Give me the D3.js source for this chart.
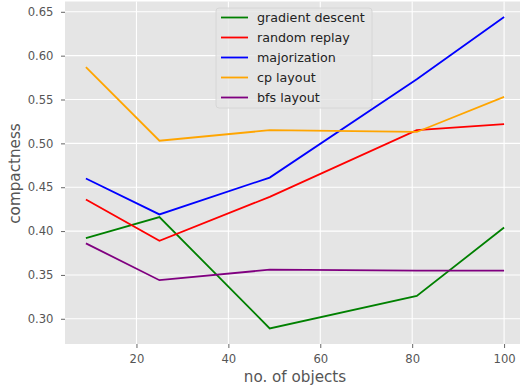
<!DOCTYPE html>
<html>
<head>
<meta charset="utf-8">
<script src="https://cdn.jsdelivr.net/npm/d3@7"></script>
<style>
  body { margin: 0; background: #fff; overflow: hidden; }
  text { font-family: "DejaVu Sans", sans-serif; }
</style>
</head>
<body>
<div id="chart"></div>
<script>
// data
var objects = [9, 25, 49, 81, 100];
var gradientDescent = [0.392, 0.416, 0.289, 0.326, 0.404];
var randomReplay = [0.436, 0.389, 0.439, 0.515, 0.522];
var majorization = [0.460, 0.419, 0.461, 0.573, 0.644];
var cpLayout = [0.587, 0.503, 0.515, 0.513, 0.553];
var bfsLayout = [0.386, 0.344, 0.356, 0.355, 0.355];
var seriesNames = ["gradient descent", "random replay", "majorization", "cp layout", "bfs layout"];
var seriesColors = ["green", "red", "blue", "orange", "purple"];
var xTicks = [20, 40, 60, 80, 100];
var yTicks = [0.30, 0.35, 0.40, 0.45, 0.50, 0.55, 0.60, 0.65];

var series = [gradientDescent, randomReplay, majorization, cpLayout, bfsLayout];

var margin = { top: 1.5, right: -5, bottom: 45, left: 65 },
    width = 520 - margin.left - margin.right,
    height = 389 - margin.top - margin.bottom;

var svg = d3.select("#chart").append("svg")
  .attr("width", 520)
  .attr("height", 389)
  .style("overflow", "hidden");

var g = svg.append("g")
  .attr("transform", "translate(" + margin.left + "," + margin.top + ")");

// matplotlib style 5% margins
var xext = d3.extent(objects), xpad = (xext[1] - xext[0]) * 0.05;
var allY = d3.merge(series);
var yext = d3.extent(allY), ypad = (yext[1] - yext[0]) * 0.05;

var xscale = d3.scaleLinear()
  .domain([xext[0] - xpad, xext[1] + xpad])
  .range([0, width]);
var yscale = d3.scaleLinear()
  .domain([yext[0] - ypad, yext[1] + ypad])
  .range([height, 0]);

g.append("rect")
  .attr("width", width)
  .attr("height", height)
  .attr("fill", "#e5e5e5");

// grid
g.selectAll(".xgrid").data(xTicks).enter().append("line")
  .attr("x1", d => xscale(d)).attr("x2", d => xscale(d))
  .attr("y1", 0).attr("y2", height)
  .attr("stroke", "#fff").attr("stroke-width", 1.1);
g.selectAll(".ygrid").data(yTicks).enter().append("line")
  .attr("y1", d => yscale(d)).attr("y2", d => yscale(d))
  .attr("x1", 0).attr("x2", width)
  .attr("stroke", "#fff").attr("stroke-width", 1.1);

// axes
var xAxis = g.append("g")
  .attr("transform", "translate(0," + height + ")")
  .call(d3.axisBottom(xscale).tickValues(xTicks).tickSize(4).tickPadding(6.5).tickFormat(d3.format("d")));
var yAxis = g.append("g")
  .call(d3.axisLeft(yscale).tickValues(yTicks).tickSize(4).tickPadding(7.5).tickFormat(d3.format(".2f")));

[xAxis, yAxis].forEach(function(a) {
  a.select(".domain").remove();
  a.selectAll(".tick line").attr("stroke", "#555").attr("stroke-width", 0.9);
  a.selectAll(".tick text").attr("fill", "#555").style("font-size", "11.6px");
});

// lines
var line = d3.line()
  .x((d, i) => xscale(objects[i]))
  .y(d => yscale(d));

g.selectAll(".series").data(series).enter().append("path")
  .attr("d", d => line(d))
  .attr("fill", "none")
  .attr("stroke", (d, i) => seriesColors[i])
  .attr("stroke-width", 1.8);

// labels
svg.append("text")
  .attr("x", margin.left + width / 2)
  .attr("y", 382)
  .attr("text-anchor", "middle")
  .attr("fill", "#555")
  .style("font-size", "15.2px")
  .text("no. of objects");
svg.append("text")
  .attr("transform", "rotate(-90)")
  .attr("x", -173.5)
  .attr("y", 19.5)
  .attr("text-anchor", "middle")
  .attr("fill", "#555")
  .style("font-size", "15.2px")
  .text("compactness");

// legend
var legend = svg.append("g").attr("transform", "translate(216,8)");
legend.append("rect")
  .attr("width", 156).attr("height", 100)
  .attr("rx", 3)
  .attr("fill", "#e5e5e5").attr("fill-opacity", 0.8)
  .attr("stroke", "#d6d6d6").attr("stroke-width", 1);
var items = legend.selectAll(".item").data(seriesNames).enter().append("g")
  .attr("transform", (d, i) => "translate(0," + (9.5 + i * 20) + ")");
items.append("line")
  .attr("x1", 5).attr("x2", 32)
  .attr("stroke", (d, i) => seriesColors[i])
  .attr("stroke-width", 1.8);
items.append("text")
  .attr("x", 41)
  .attr("y", 4.5)
  .attr("fill", "#222")
  .style("font-size", "12.7px")
  .text(d => d);
</script>
</body>
</html>
